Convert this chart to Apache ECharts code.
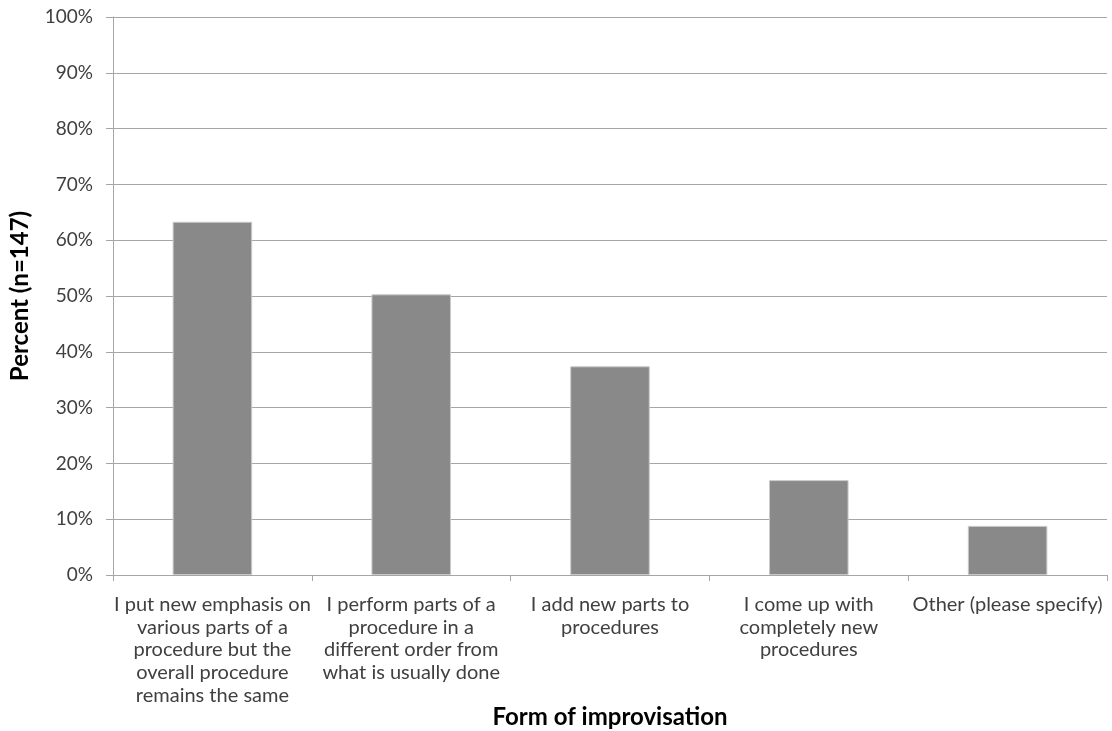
<!DOCTYPE html>
<html>
<head>
<meta charset="utf-8">
<script src="https://cdn.jsdelivr.net/npm/echarts@6/dist/echarts.min.js"></script>
<style>
  html, body { margin: 0; padding: 0; background: #fff; }
  #chart { width: 1112px; height: 731px; }
</style>
</head>
<body>
<div id="chart"></div>
<script>
// Forms of improvisation reported by respondents (n = 147)
const categories = [
  'I put new emphasis on\nvarious parts of a\nprocedure but the\noverall procedure\nremains the same',
  'I perform parts of a\nprocedure in a\ndifferent order from\nwhat is usually done',
  'I add new parts to\nprocedures',
  'I come up with\ncompletely new\nprocedures',
  'Other (please specify)'
];
const percentValues = [63.3, 50.3, 37.4, 17.0, 8.8];
const yTicks = { min: 0, max: 100, interval: 10 };

const FONT = 'Lato, "Open Sans", "Liberation Sans", sans-serif';
const chart = echarts.init(document.getElementById('chart'), null, { renderer: 'canvas' });

chart.setOption({
  animation: false,
  backgroundColor: '#ffffff',
  grid: { left: 113, right: 5, top: 17, bottom: 156, containLabel: false, outerBoundsMode: 'none' },
  xAxis: {
    type: 'category',
    data: categories,
    name: 'Form of improvisation',
    nameLocation: 'middle',
    nameGap: 130,
    nameMoveOverlap: false,
    nameTextStyle: { fontFamily: FONT, fontSize: 24, fontWeight: 'bold', color: '#000' },
    axisLine: { lineStyle: { color: '#a6a6a6', width: 1 } },
    axisTick: { show: true, length: 6, alignWithLabel: false, lineStyle: { color: '#a6a6a6' } },
    axisLabel: {
      interval: 0,
      margin: 18,
      fontFamily: FONT,
      fontSize: 20,
      lineHeight: 22.75,
      color: '#404040',
      align: 'center',
      verticalAlign: 'top'
    }
  },
  yAxis: {
    type: 'value',
    min: yTicks.min,
    max: yTicks.max,
    interval: yTicks.interval,
    name: 'Percent (n=147)',
    nameLocation: 'middle',
    nameGap: 81,
    nameRotate: 90,
    nameMoveOverlap: false,
    nameTextStyle: { fontFamily: FONT, fontSize: 24, fontWeight: 'bold', color: '#000' },
    axisLine: { show: true, lineStyle: { color: '#a6a6a6', width: 1 } },
    axisTick: { show: true, length: 7, lineStyle: { color: '#a6a6a6' } },
    axisLabel: {
      margin: 20,
      fontFamily: FONT,
      fontSize: 19,
      color: '#404040',
      formatter: v => v + '%'
    },
    splitLine: { show: true, lineStyle: { color: '#a6a6a6', width: 1 } }
  },
  series: [{
    type: 'bar',
    data: percentValues,
    barWidth: '40%',
    itemStyle: { color: '#898989', borderColor: '#c8c8c8', borderWidth: 1 }
  }]
});
</script>
</body>
</html>
